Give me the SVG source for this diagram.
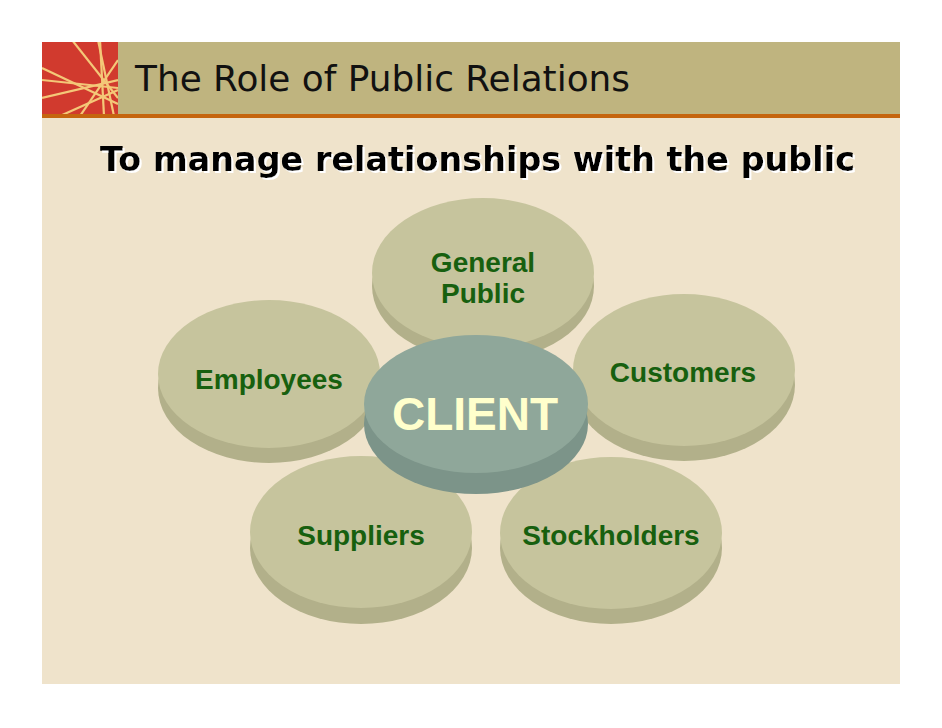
<svg xmlns="http://www.w3.org/2000/svg" width="942" height="728" viewBox="0 0 942 728">
<defs>
<style>
.face{fill:#C6C49D}
.side{fill:#B2B08A}
.cface{fill:#8FA79A}
.cside{fill:#7C9489}
.lbl{font-family:"Liberation Sans",Arial,sans-serif;font-weight:bold;font-size:28px;fill:#17600F;text-anchor:middle}
.deco{stroke:#F4C878;stroke-width:2.2;fill:none}
</style>
<clipPath id="sq"><rect x="42" y="42" width="76" height="72"/></clipPath>
<filter id="shadow" x="-5%" y="-30%" width="110%" height="160%">
<feDropShadow dx="2" dy="2" stdDeviation="0" flood-color="#FFFFFF" flood-opacity="1"/>
</filter>
</defs>
<rect width="942" height="728" fill="#FFFFFF"/>
<rect x="42" y="42" width="858" height="642" fill="#EFE3CB"/>
<rect x="42" y="42" width="858" height="72" fill="#BFB47F"/>
<rect x="42" y="114" width="858" height="4" fill="#C5650F"/>
<g id="logo">
<rect x="42" y="42" width="76" height="72" fill="#D13A2E"/>
<g clip-path="url(#sq)" class="deco">
<line x1="72" y1="40" x2="118" y2="98"/>
<line x1="98" y1="40" x2="114" y2="116"/>
<line x1="100" y1="40" x2="104" y2="116"/>
<line x1="42" y1="68" x2="118" y2="104"/>
<line x1="42" y1="80" x2="118" y2="88"/>
<line x1="42" y1="98" x2="118" y2="80"/>
<line x1="60" y1="116" x2="118" y2="90"/>
<line x1="80" y1="116" x2="118" y2="60"/>
</g>
</g>
<text x="135" y="91" font-family="'DejaVu Sans',Verdana,sans-serif" font-size="35" fill="#111111" textLength="495" lengthAdjust="spacingAndGlyphs">The Role of Public Relations</text>
<text x="100" y="171" font-family="'DejaVu Sans',Verdana,sans-serif" font-weight="bold" font-size="34" fill="#000000" filter="url(#shadow)" textLength="755" lengthAdjust="spacingAndGlyphs">To manage relationships with the public</text>
<g id="connectors"></g>
<g id="employees">
<ellipse class="side" cx="269" cy="388" rx="111" ry="75"/>
<ellipse class="face" cx="269" cy="374" rx="111" ry="74"/>
<text class="lbl" x="269" y="389">Employees</text>
</g>
<g id="general-public">
<ellipse class="side" cx="483" cy="286" rx="111" ry="75"/>
<ellipse class="face" cx="483" cy="273" rx="111" ry="75"/>
<text class="lbl" x="483" y="272">General</text>
<text class="lbl" x="483" y="303">Public</text>
</g>
<g id="customers">
<ellipse class="side" cx="684" cy="385" rx="111" ry="76"/>
<ellipse class="face" cx="684" cy="370" rx="111" ry="76"/>
<text class="lbl" x="683" y="382">Customers</text>
</g>
<g id="suppliers">
<ellipse class="side" cx="361" cy="548" rx="111" ry="76"/>
<ellipse class="face" cx="361" cy="532" rx="111" ry="76"/>
<text class="lbl" x="361" y="545">Suppliers</text>
</g>
<g id="stockholders">
<ellipse class="side" cx="611" cy="548" rx="111" ry="76"/>
<ellipse class="face" cx="611" cy="533" rx="111" ry="76"/>
<text class="lbl" x="611" y="545">Stockholders</text>
</g>
<g id="client">
<ellipse class="cside" cx="476" cy="424" rx="112" ry="70"/>
<ellipse class="cface" cx="476" cy="404" rx="112" ry="69"/>
<text x="475" y="430" font-family="'Liberation Sans',Arial,sans-serif" font-weight="bold" font-size="46" fill="#FFFFCC" text-anchor="middle">CLIENT</text>
</g>
</svg>
